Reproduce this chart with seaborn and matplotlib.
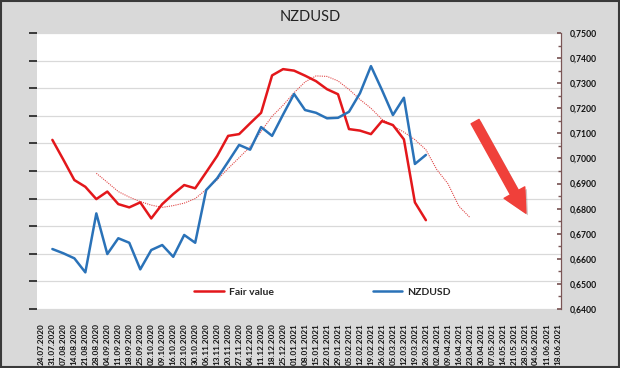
import numpy as np
import pandas as pd
import seaborn as sns
import matplotlib.pyplot as plt
from matplotlib.patches import Rectangle
from matplotlib import patheffects as pe

# Weekly category axis
dates = ["24.07.2020", "31.07.2020", "07.08.2020", "14.08.2020", "21.08.2020", "28.08.2020",
         "04.09.2020", "11.09.2020", "18.09.2020", "25.09.2020", "02.10.2020", "09.10.2020",
         "16.10.2020", "23.10.2020", "30.10.2020", "06.11.2020", "13.11.2020", "20.11.2020",
         "27.11.2020", "04.12.2020", "11.12.2020", "18.12.2020", "25.12.2020", "01.01.2021",
         "08.01.2021", "15.01.2021", "22.01.2021", "29.01.2021", "05.02.2021", "12.02.2021",
         "19.02.2021", "26.02.2021", "05.03.2021", "12.03.2021", "19.03.2021", "26.03.2021",
         "02.04.2021", "09.04.2021", "16.04.2021", "23.04.2021", "30.04.2021", "07.05.2021",
         "14.05.2021", "21.05.2021", "28.05.2021", "04.06.2021", "11.06.2021", "18.06.2021"]

# Fair value and NZDUSD: 31.07.2020 - 26.03.2021
fair_value = [0.7074, 0.6995, 0.6914, 0.6887, 0.6838, 0.6868, 0.6818, 0.6805, 0.6825, 0.6761,
              0.6818, 0.6858, 0.6894, 0.6881, 0.6945, 0.7010, 0.7090, 0.7097, 0.7140, 0.7182,
              0.7331, 0.7356, 0.7350, 0.7330, 0.7308, 0.7276, 0.7256, 0.7117, 0.7111, 0.7097,
              0.7149, 0.7133, 0.7076, 0.6825, 0.6754]
nzdusd = [0.6639, 0.6622, 0.6602, 0.6546, 0.6781, 0.6619, 0.6682, 0.6664, 0.6558, 0.6635,
          0.6655, 0.6608, 0.6695, 0.6664, 0.6874, 0.6921, 0.6987, 0.7054, 0.7035, 0.7125,
          0.7090, 0.7175, 0.7257, 0.7193, 0.7182, 0.7160, 0.7162, 0.7186, 0.7260, 0.7368,
          0.7273, 0.7173, 0.7242, 0.6978, 0.7014]
# Trend of fair value (dotted): 28.08.2020 - 23.04.2021
trend = [0.6941, 0.6905, 0.6868, 0.6846, 0.6828, 0.6814, 0.6805, 0.6812, 0.6822, 0.6840,
         0.6876, 0.6915, 0.6960, 0.7003, 0.7047, 0.7108, 0.7168, 0.7212, 0.7262, 0.7305,
         0.7329, 0.7327, 0.7309, 0.7275, 0.7235, 0.7200, 0.7156, 0.7130, 0.7105, 0.7075,
         0.7035, 0.6955, 0.6900, 0.6810, 0.6765]

y_ticks = np.round(np.arange(0.64, 0.7501, 0.01), 2)

sns.set_theme(style="white")
plt.rcParams["font.family"] = ["Lato", "DejaVu Sans"]

start = dates.index("31.07.2020")
trend_start = dates.index("28.08.2020")
df_fair = pd.DataFrame({"x": range(start, start + len(fair_value)), "y": fair_value})
df_nzd = pd.DataFrame({"x": range(start, start + len(nzdusd)), "y": nzdusd})
df_trend = pd.DataFrame({"x": range(trend_start, trend_start + len(trend)), "y": trend})

red = "#e3171b"
blue = "#2a72b8"

fig = plt.figure(figsize=(6.2, 3.68), dpi=100, facecolor="#d9d9d9")
ax = fig.add_axes([37 / 620, 1 - 309 / 368, 524 / 620, 276 / 368])
ax.set_facecolor("white")

# gridlines come from a hidden primary axis with 10 equal steps
ax.set_ylim(0, 10)
ax.set_yticks(range(11))
ax.yaxis.grid(True, color="#d9d9d9", linewidth=0.9)
ax.tick_params(axis="y", left=False, labelleft=False)
for s in ax.spines.values():
    s.set_visible(False)

ax2 = ax.twinx()
sns.lineplot(data=df_trend, x="x", y="y", ax=ax2, color="#e04848", linewidth=0.8,
             linestyle=(0, (1.0, 1.0)), label="_nolegend_")
sns.lineplot(data=df_fair, x="x", y="y", ax=ax2, color=red, linewidth=1.8, label="Fair value")
sns.lineplot(data=df_nzd, x="x", y="y", ax=ax2, color=blue, linewidth=1.8, label="NZDUSD")

ax2.set_ylim(0.64, 0.75)
ax2.set_yticks(y_ticks)
ax2.set_yticklabels([f"{v:.4f}".replace(".", ",") for v in y_ticks],
                    fontsize=6.2, fontweight="bold", color="#111111")
ax2.set_yticks(np.round(np.arange(0.645, 0.75, 0.01), 3), minor=True)
ax2.tick_params(axis="y", which="major", right=True, direction="in", length=3,
                color="#7a5656", pad=6)
ax2.tick_params(axis="y", which="minor", right=True, direction="in", length=2,
                color="#7a5656")
ax2.set_ylabel("")
for name, s in ax2.spines.items():
    s.set_visible(name == "right")
ax2.spines["right"].set_color("#7a5656")
ax2.spines["right"].set_linewidth(0.9)

ax.set_xlim(-0.4, len(dates) - 0.7)
ax.set_xticks(range(len(dates)))
ax.set_xticklabels(dates, rotation=90, fontsize=5.9, fontweight="bold", color="#111111")
ax.tick_params(axis="x", bottom=False, pad=4)
ax.set_xlabel("")

leg = ax2.legend(loc="lower center", bbox_to_anchor=(0.545, 0.01), ncol=2, frameon=False,
                 columnspacing=9.5, handlelength=2.8, handletextpad=0.5,
                 prop={"weight": "bold", "size": 7.5})

# red arrow pointing down
ax2.annotate("", xy=(0.933, 0.347), xytext=(0.836, 0.679),
             xycoords="axes fraction", textcoords="axes fraction",
             arrowprops=dict(arrowstyle="simple,head_length=1.7,head_width=1.7,tail_width=0.65",
                             mutation_scale=10, color="#f0403a", shrinkA=0, shrinkB=0,
                             path_effects=[pe.SimplePatchShadow(offset=(1.5, -1.5), alpha=0.25),
                                           pe.Normal()]))

fig.text(0.5, 0.955, "NZDUSD", ha="center", va="center", fontsize=10.5, color="#222222")
fig.patches.append(Rectangle((0.002, 0.003), 0.996, 0.994, transform=fig.transFigure,
                             fill=False, edgecolor="#3a3a3a", linewidth=1.5))

fig.savefig("out.png", dpi=100, facecolor=fig.get_facecolor())
